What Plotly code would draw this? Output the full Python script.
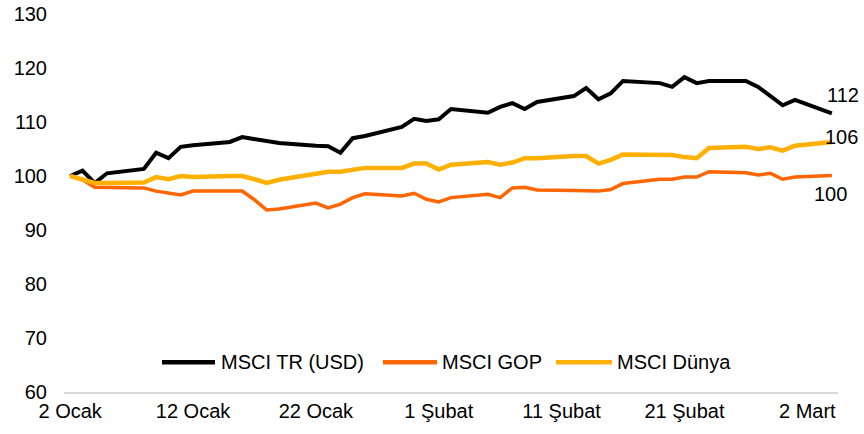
import plotly.graph_objects as go

dates = ["2024-01-02", "2024-01-03", "2024-01-04", "2024-01-05", "2024-01-08", "2024-01-09",
         "2024-01-10", "2024-01-11", "2024-01-12", "2024-01-15", "2024-01-16", "2024-01-17",
         "2024-01-18", "2024-01-19", "2024-01-22", "2024-01-23", "2024-01-24", "2024-01-25",
         "2024-01-26", "2024-01-29", "2024-01-30", "2024-01-31", "2024-02-01", "2024-02-02",
         "2024-02-05", "2024-02-06", "2024-02-07", "2024-02-08", "2024-02-09", "2024-02-12",
         "2024-02-13", "2024-02-14", "2024-02-15", "2024-02-16", "2024-02-19", "2024-02-20",
         "2024-02-21", "2024-02-22", "2024-02-23", "2024-02-26", "2024-02-27", "2024-02-28",
         "2024-02-29", "2024-03-01", "2024-03-04"]

msci_tr = [100, 101, 98.7, 100.5, 101.3, 104.3, 103.3, 105.4, 105.7, 106.3, 107.2, 106.8,
           106.4, 106.1, 105.6, 105.5, 104.3, 107.0, 107.4, 109.1, 110.6, 110.2, 110.5, 112.4,
           111.7, 112.8, 113.5, 112.4, 113.7, 114.8, 116.3, 114.2, 115.3, 117.6, 117.2, 116.5,
           118.3, 117.2, 117.6, 117.6, 116.5, 114.8, 113.1, 114.1, 111.6]

msci_gop = [100, 99.3, 97.9, 97.9, 97.8, 97.2, 96.8, 96.5, 97.2, 97.3, 97.2, 95.6,
            93.7, 93.9, 95.0, 94.1, 94.8, 96.0, 96.7, 96.3, 96.8, 95.7, 95.2, 96.0,
            96.6, 96.0, 97.8, 97.9, 97.4, 97.3, 97.2, 97.2, 97.5, 98.6, 99.4, 99.4,
            99.8, 99.8, 100.8, 100.6, 100.2, 100.5, 99.4, 99.8, 100.1]

msci_dunya = [100, 99.3, 98.7, 98.7, 98.8, 99.8, 99.4, 100.0, 99.8, 100.0, 100.0, 99.4,
              98.7, 99.3, 100.4, 100.8, 100.8, 101.1, 101.5, 101.5, 102.3, 102.3, 101.2, 102.1,
              102.6, 102.1, 102.5, 103.3, 103.3, 103.7, 103.7, 102.3, 103.0, 104.0, 103.9, 103.9,
              103.5, 103.3, 105.2, 105.4, 105.0, 105.3, 104.7, 105.6, 106.3]

series_names = ["MSCI TR (USD)", "MSCI GOP", "MSCI Dünya"]
end_labels = ["112", "100", "106"]

tick_dates = ["2024-01-02", "2024-01-12", "2024-01-22", "2024-02-01", "2024-02-11",
              "2024-02-21", "2024-03-02"]
tick_labels = ["2 Ocak", "12 Ocak", "22 Ocak", "1 Şubat", "11 Şubat", "21 Şubat", "2 Mart"]

y_ticks = [60, 70, 80, 90, 100, 110, 120, 130]

colors = ["#000000", "#FF6600", "#FFB000"]
widths = [4, 3.5, 4.5]
FONT = "Liberation Sans"

fig = go.Figure()
all_series = [msci_tr, msci_gop, msci_dunya]
for name, vals, col, w in zip(series_names, all_series, colors, widths):
    fig.add_trace(go.Scatter(x=dates, y=vals, mode="lines", name=name,
                             line=dict(color=col, width=w), showlegend=False))

# End-of-series labels
label_shifts = [(-7, 18), (-20, -19), (-9, 5)]
for vals, txt, (dx, dy) in zip(all_series, end_labels, label_shifts):
    fig.add_annotation(x=dates[-1], y=vals[-1], text=txt, showarrow=False,
                       xanchor="left", yanchor="middle", xshift=dx, yshift=dy,
                       font=dict(family=FONT, size=20, color="#000000"))

# Manual legend (long line symbols as in the reference)
leg_y = 0.079
leg_line_x = [(0.1266, 0.1951), (0.4121, 0.4819), (0.6357, 0.7080)]
leg_text_x = [0.2003, 0.4858, 0.7119]
for name, col, (x0, x1), tx in zip(series_names, colors, leg_line_x, leg_text_x):
    fig.add_shape(type="line", xref="paper", yref="paper", x0=x0, x1=x1, y0=leg_y, y1=leg_y,
                  line=dict(color=col, width=4.5))
    fig.add_annotation(xref="paper", yref="paper", x=tx, y=leg_y, text=name, showarrow=False,
                       xanchor="left", yanchor="middle",
                       font=dict(family=FONT, size=20, color="#000000"))

fig.update_layout(
    width=864, height=434,
    margin=dict(l=64, r=26, t=14, b=42, autoexpand=False),
    paper_bgcolor="white", plot_bgcolor="white",
    font=dict(family=FONT, size=20, color="#000000"),
    showlegend=False,
)
fig.update_xaxes(
    type="date", range=["2024-01-01 12:00", "2024-03-04 12:00"],
    tickvals=tick_dates, ticktext=tick_labels, tickangle=0, automargin=False,
    showgrid=False, zeroline=False, showline=True, linecolor="#D9D9D9", linewidth=1.5,
    ticks="", ticklabelstandoff=0,
    tickfont=dict(family=FONT, size=20, color="#000000"),
)
fig.update_yaxes(
    range=[60, 130], tickvals=y_ticks, showgrid=False, zeroline=False, showline=False,
    ticks="", ticklabelstandoff=16, automargin=False,
    tickfont=dict(family=FONT, size=20, color="#000000"),
)

fig.write_html("out.html", config={"displayModeBar": False},
               post_script="document.body.style.margin='0';document.body.style.overflow='hidden';")
